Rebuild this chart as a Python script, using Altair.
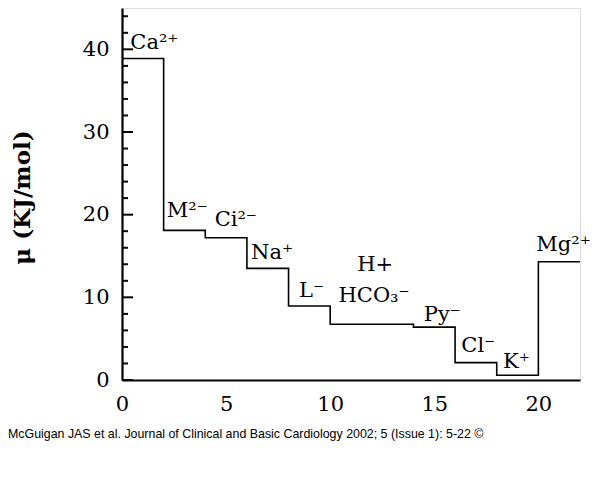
import altair as alt
import pandas as pd

# step function data (left edge of each step, value)
step_x = [0, 2, 4, 6, 8, 10, 14, 16, 18, 20, 22]
step_y = [38.9, 18.1, 17.2, 13.5, 8.95, 6.75, 6.4, 2.1, 0.57, 14.3, 14.3]

# ion labels
ion_names = ["Ca²⁺", "M²⁻", "Ci²⁻", "Na⁺", "L⁻", "H+", "HCO₃⁻", "Py⁻", "Cl⁻", "K⁺", "Mg²⁺"]
ion_x = [0.4, 2.15, 4.45, 6.2, 8.5, 11.3, 10.4, 14.5, 16.3, 18.3, 19.9]
ion_y = [40.1, 19.7, 18.6, 14.6, 10.0, 13.2, 9.4, 7.1, 3.4, 1.5, 15.6]

x_ticks = [0, 5, 10, 15, 20]
y_major = [0, 10, 20, 30, 40]
y_minor = [v for v in range(2, 45, 2) if v % 10 != 0]

footer = "McGuigan JAS et al. Journal of Clinical and Basic Cardiology 2002; 5 (Issue 1): 5-22 ©"

SERIF = "DejaVu Serif"

steps = pd.DataFrame({"x": step_x, "y": step_y})
labels = pd.DataFrame({"name": ion_names, "x": ion_x, "y": ion_y})
major = pd.DataFrame({"y": y_major})
minor = pd.DataFrame({"y": y_minor})
foot = pd.DataFrame({"t": [footer]})

xs = alt.Scale(domain=[0, 22], nice=False, zero=False)
ys = alt.Scale(domain=[0, 45], nice=False)

line = alt.Chart(steps).mark_line(interpolate="step-after", color="black", strokeWidth=1.6).encode(
    x=alt.X("x:Q", scale=xs,
            axis=alt.Axis(values=x_ticks, ticks=False, grid=False, title=None,
                          labelFont=SERIF, labelFontSize=21, labelColor="black",
                          labelPadding=13, domainColor="black", domainWidth=2.2, labelFlush=False)),
    y=alt.Y("y:Q", scale=ys,
            axis=alt.Axis(values=y_major, ticks=False, grid=False, title="μ (KJ/mol)",
                          labelFont=SERIF, labelFontSize=21, labelColor="black",
                          labelPadding=13, domainColor="black", domainWidth=2.2,
                          titleFont=SERIF, titleFontSize=23, titleFontWeight="bold",
                          titleColor="black", titleX=-100, titleY=189, titleAngle=-90,
                          titleAlign="center", titleBaseline="middle", labelFlush=False)),
)

major_ticks = alt.Chart(major).mark_rule(color="black", strokeWidth=2).encode(
    y="y:Q", x=alt.value(0), x2=alt.value(11)
)
minor_ticks = alt.Chart(minor).mark_rule(color="black", strokeWidth=2).encode(
    y="y:Q", x=alt.value(0), x2=alt.value(6)
)

text = alt.Chart(labels).mark_text(font=SERIF, fontSize=21, color="black", align="left",
                                   baseline="alphabetic").encode(
    x="x:Q", y="y:Q", text="name:N"
)

foot_text = alt.Chart(foot).mark_text(font="Liberation Sans", fontSize=12.4, color="black",
                                      align="left", baseline="middle").encode(
    x=alt.value(-114), y=alt.value(426), text="t:N"
)

chart = alt.layer(line, major_ticks, minor_ticks, text, foot_text).properties(
    width=458, height=372,
    autosize=alt.AutoSizeParams(type="none"),
    padding={"left": 114, "top": 0, "right": 12, "bottom": 93},
).configure_view(stroke=None).configure(background="white")

chart.save("out.html", embed_options={"renderer": "svg", "actions": False})
